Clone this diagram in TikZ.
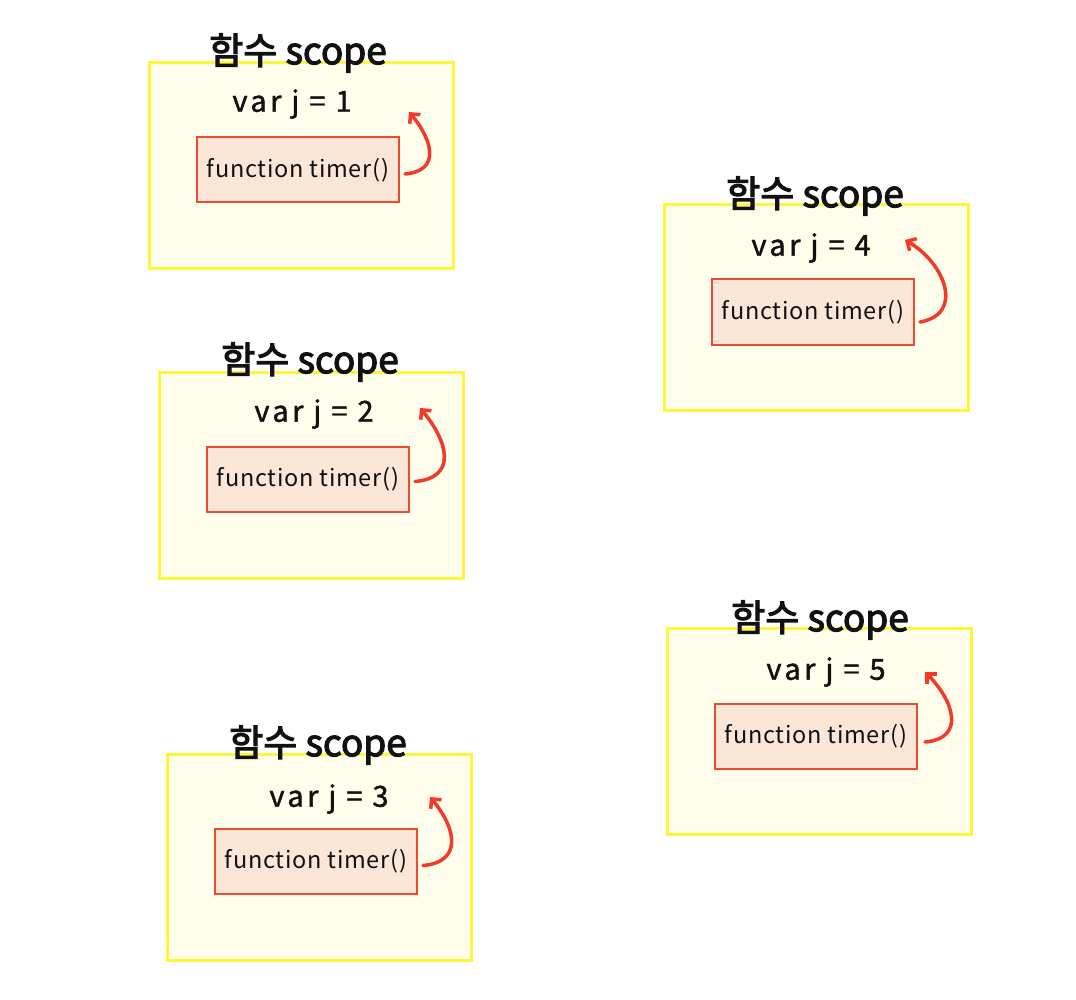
\documentclass[tikz,border=0pt]{standalone}
\usepackage{fontspec}
\newfontfamily\kr{Noto Sans CJK KR}
\newfontfamily\krtitle[FakeBold=3]{Noto Sans CJK KR}
\newfontfamily\krvar[FakeBold=1.5,LetterSpace=12]{Noto Sans CJK KR}
\newfontfamily\krfn[LetterSpace=3]{Noto Sans CJK KR}
\usetikzlibrary{arrows.meta}
\definecolor{scopeline}{HTML}{FFF53A}
\definecolor{scopefill}{HTML}{FFFEEC}
\definecolor{fnline}{HTML}{EE4A2E}
\definecolor{fnfill}{HTML}{FCE6D8}
\definecolor{arrowred}{HTML}{F23A2B}
\definecolor{ink}{HTML}{111111}
\begin{document}
\begin{tikzpicture}[x=1pt,y=-1pt,
  outerbox/.style={draw=scopeline, fill=scopefill, line width=3pt, minimum width=304pt, minimum height=206pt, inner sep=0pt},
  fnbox/.style={draw=fnline, fill=fnfill, line width=2pt, minimum width=202pt, minimum height=65pt, inner sep=0pt, text=ink, font=\krfn\fontsize{23.5}{26}\selectfont},
  titletext/.style={font=\krtitle\fontsize{37}{40}\selectfont, inner sep=0pt, text=ink},
  vartext/.style={font=\krvar\fontsize{29}{32}\selectfont, inner sep=0pt, text=ink},
  loop/.style={draw=arrowred, line width=3.5pt, line cap=round, -{Straight Barb[length=7pt,width=14pt,line width=3.5pt]}}
]
\useasboundingbox (0,0) rectangle (1076,1000);
\fill[white] (0,0) rectangle (1076,1000);

% box 1
\node[outerbox] (o1) at (301,166) {};
\node[titletext] (t1) at (298,53) {함수 scope};
\node[vartext] (v1) at (292,104) {var j = 1};
\node[fnbox] (f1) at (298,170) {function timer()};
\coordinate (e1) at (409,112);
\draw[loop] ([xshift=5pt,yshift=-4pt]f1.east) to[out=5,in=-50,looseness=1.5] (e1);

% box 2
\node[outerbox] (o2) at (311,475.5) {};
\node[titletext] (t2) at (310,362) {함수 scope};
\node[vartext] (v2) at (314,414) {var j = 2};
\node[fnbox] (f2) at (308,479.5) {function timer()};
\coordinate (e2) at (420,408);
\draw[loop] ([xshift=5pt,yshift=-2pt]f2.east) to[out=5,in=-50,looseness=1.5] (e2);

% box 3
\node[outerbox] (o3) at (319.5,857.5) {};
\node[titletext] (t3) at (318,745) {함수 scope};
\node[vartext] (v3) at (329,799) {var j = 3};
\node[fnbox] (f3) at (316,861.5) {function timer()};
\coordinate (e3) at (430,797);
\draw[loop] ([xshift=5pt,yshift=-4pt]f3.east) to[out=5,in=-50,looseness=1.5] (e3);

% box 4
\node[outerbox] (o4) at (816,307.5) {};
\node[titletext] (t4) at (815,196) {함수 scope};
\node[vartext] (v4) at (811,248) {var j = 4};
\node[fnbox] (f4) at (813,312) {function timer()};
\coordinate (e4) at (905,240);
\draw[loop] ([xshift=5pt,yshift=-10pt]f4.east) to[out=10,in=-30,looseness=1.4] (e4);

% box 5
\node[outerbox] (o5) at (819.5,731.5) {};
\node[titletext] (t5) at (820,620) {함수 scope};
\node[vartext] (v5) at (826,672) {var j = 5};
\node[fnbox] (f5) at (816,736) {function timer()};
\coordinate (e5) at (925,672);
\draw[loop] ([xshift=7pt,yshift=-6pt]f5.east) to[out=5,in=-45,looseness=1.5] (e5);
\end{tikzpicture}
\end{document}
